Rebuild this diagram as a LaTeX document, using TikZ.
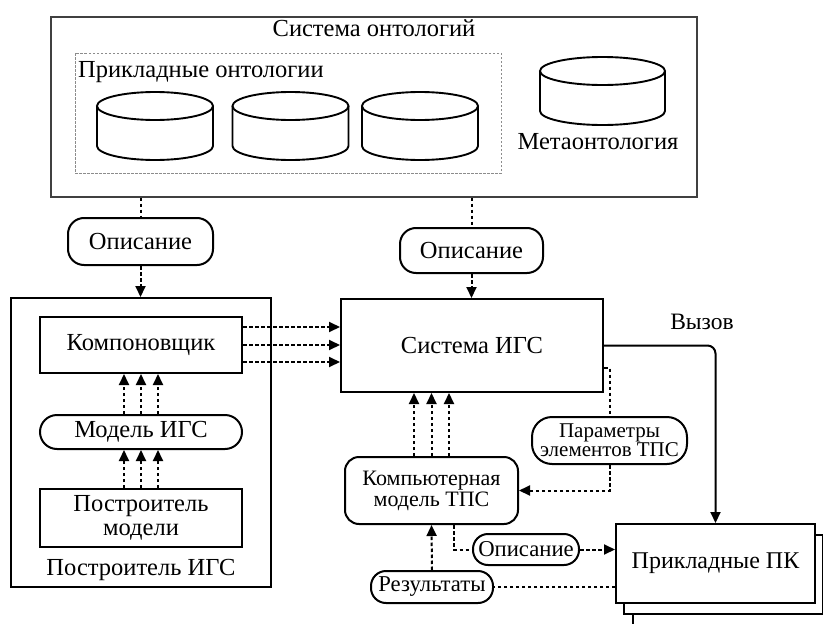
\documentclass[tikz,border=0pt]{standalone}
\usepackage{fontspec}
\setmainfont{Liberation Serif}
\usetikzlibrary{arrows.meta,positioning}

\begin{document}
\begin{tikzpicture}[
  x=1pt, y=-1pt,
  every node/.style={font=\fontsize{24.5}{22}\selectfont, inner sep=0pt, align=center},
  box/.style={draw, line width=2pt},
  rbox/.style={draw, line width=2pt, rounded corners=14pt},
  pill/.style={draw, line width=2pt, rounded corners=16pt},
  dots/.style={line width=2pt, dash pattern=on 3.5pt off 2.5pt},
  arr/.style={-{Triangle[length=11pt,width=10pt]}},
  disk/.style={line width=1.9pt}
]
  \useasboundingbox (0,0) rectangle (823,624);

  % ontology system
  \node[draw, line width=1.2pt, draw=black!75, minimum width=646pt, minimum height=180pt] (onto) at (374,107) {};
  \node (ontotitle) at (374,28) {Система онтологий};
  \node[draw=black!45, line width=1pt, dash pattern=on 2.5pt off 1.5pt, minimum width=426pt, minimum height=120pt] (appl) at (288,113) {};
  \node[anchor=west] (appltitle) at (78,72) {Прикладные онтологии};

  % disks
  \foreach \cx/\cy/\w in {155/126/58, 290.5/126/58, 420/126/58, 602.5/91/62.5} {
    \draw[disk] (\cx,\cy-20) ellipse[x radius=\w, y radius=14];
    \draw[disk] (\cx-\w,\cy-20) -- (\cx-\w,\cy+20)
      arc[start angle=180, end angle=0, x radius=\w, y radius=14] -- (\cx+\w,\cy-20);
  }
  \node (meta) at (598,142) {Метаонтология};

  % IGS builder
  \node[box, minimum width=260pt, minimum height=289pt] (igsb) at (141,442.5) {};
  \node[box, minimum width=202pt, minimum height=56pt] (komp) at (141,345) {Компоновщик};
  \node[pill, minimum width=202pt, minimum height=34pt, rounded corners=17pt] (model) at (141,432) {Модель ИГС};
  \node[box, minimum width=202pt, minimum height=58pt,
    font=\fontsize{24.5}{23.5}\selectfont] (mbuild) at (141,518) {Построитель\\модели};
  \node (igsbtitle) at (141,570) {Построитель ИГС};

  % descriptions
  \node[pill, minimum width=145pt, minimum height=47pt] (descl) at (140.5,241.5) {Описание};
  \node[pill, minimum width=143pt, minimum height=45pt] (descm) at (471.5,250.5) {Описание};

  % IGS system and models
  \node[box, minimum width=262pt, minimum height=93pt] (igs) at (472,345.5) {Система ИГС};
  \node[rbox, minimum width=173pt, minimum height=67pt,
    font=\fontsize{22}{21}\selectfont] (cmodel) at (431.5,490.5) {Компьютерная\\модель ТПС};
  \node[pill, minimum width=155pt, minimum height=47pt, rounded corners=20pt,
    font=\fontsize{21}{18}\selectfont] (params) at (609.5,440.5) {Параметры\\элементов ТПС};
  \node[pill, minimum width=106pt, minimum height=31pt, rounded corners=15pt,
    font=\fontsize{22.7}{22}\selectfont] (descb) at (526,549.5) {Описание};
  \node[pill, minimum width=122pt, minimum height=32pt, rounded corners=15pt,
    font=\fontsize{22.7}{22}\selectfont] (res) at (432,587) {Результаты};

  % application packages
  \node[box, fill=white, minimum width=199pt, minimum height=79pt] (pk3) at (732.5,586.5) {};
  \node[box, fill=white, minimum width=199pt, minimum height=79pt] (pk2) at (723.5,574.5) {};
  \node[box, fill=white, minimum width=199pt, minimum height=79pt,
    font=\fontsize{24}{22}\selectfont] (pk) at (715.5,563.5) {Прикладные ПК};

  % connectors
  \draw[dots] (onto.south -| descl) -- (descl.north);
  \draw[dots, arr] (descl.south) -- (igsb.north -| descl);
  \draw[dots] (onto.south -| descm) -- (descm.north);
  \draw[dots, arr] (descm.south) -- (igs.north -| descm);

  \foreach \d in {18,0,-17} {
    \draw[dots, arr] ([yshift=\d pt]komp.east) -- ([yshift=\d pt]komp.east -| igs.west);
  }
  \foreach \d in {-17,0,17} {
    \draw[dots, arr] ([xshift=\d pt]model.north) -- ([xshift=\d pt]komp.south);
    \draw[dots, arr] ([xshift=\d pt]mbuild.north) -- ([xshift=\d pt]model.south);
  }
  \foreach \d in {-17.5,0,17.5} {
    \draw[dots, arr] ([xshift=\d pt]cmodel.north) -- ([xshift=\d pt]cmodel.north |- igs.south);
  }

  \coordinate (pout) at ([yshift=-22.5pt]igs.east);
  \draw[dots] (pout) -| (params.north);
  \draw[dots, arr] (params.south) |- (cmodel.east);

  \draw[line width=2pt, arr, rounded corners=8pt] (igs.east) -| (pk.north);
  \node[font=\fontsize{23.5}{22}\selectfont] (call) at (702,322) {Вызов};

  \draw[dots] ([xshift=22.5pt]cmodel.south) |- (descb.west);
  \draw[dots, arr] (descb.east) -- (descb.east -| pk.west);
  \draw[dots, arr] (res.north) -- (cmodel.south);
  \draw[dots] (res.east -| pk.west) -- (res.east);
\end{tikzpicture}
\end{document}
